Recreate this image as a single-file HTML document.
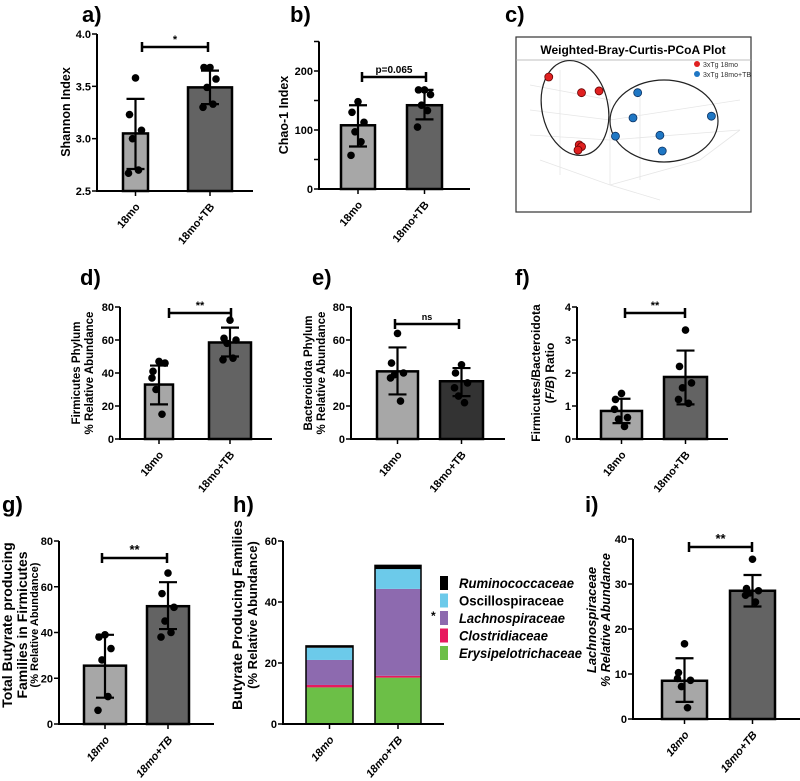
<!DOCTYPE html>
<html><head><meta charset="utf-8"><style>
body{margin:0;background:#fff;}
svg{display:block;font-family:"Liberation Sans",sans-serif;}
.tk{font-weight:bold;font-size:11px;}
.lt{font-weight:bold;font-size:22px;}
</style></head><body>
<svg id="fig" width="800" height="781" viewBox="0 0 800 781" xmlns="http://www.w3.org/2000/svg"></svg>
<script>
// ---- data ----
const groups = ["18mo","18mo+TB"];
const aMeans=[3.05,3.49], aErrLo=[2.71,3.33], aErrHi=[3.38,3.65];
const aPts1=[3.58,3.23,3.08,3.0,2.70,2.67], aPts2=[3.68,3.68,3.57,3.49,3.33,3.30];
const aTicks=[2.5,3.0,3.5,4.0];
const bMeans=[108,142], bErrLo=[72,118], bErrHi=[142,168];
const bPts1=[148,130,113,97,80,57], bPts2=[168,168,160,142,133,105];
const bTicks=[0,100,200];
const dMeans=[33,58.5], dErrLo=[21,50], dErrHi=[44.5,67.5];
const dPts1=[47,41,46,30,15,37], dPts2=[72,61,60,58,49,48];
const dTicks=[0,20,40,60,80];
const eMeans=[41,35], eErrLo=[27,26], eErrHi=[55.5,43];
const ePts1=[64,46,40,39,23,37], ePts2=[45,40,34,26,22,31];
const eTicks=[0,20,40,60,80];
const fMeans=[0.85,1.88], fErrLo=[0.48,1.05], fErrHi=[1.22,2.68];
const fPts1=[1.38,1.2,0.65,0.6,0.38,0.9], fPts2=[3.3,2.2,1.7,1.55,1.08,1.2];
const fTicks=[0,1,2,3,4];
const gMeans=[25.5,51.5], gErrLo=[11.5,41.5], gErrHi=[39,62];
const gPts1=[39,38,33,28,12,6], gPts2=[66,57,51,45,40,38];
const gTicks=[0,20,40,60,80];
const iMeans=[8.5,28.5], iErrLo=[3.8,25], iErrHi=[13.5,32];
const iPts1=[16.7,10.3,8.6,7.2,2.5,9], iPts2=[35.5,29,28.5,28,26,27.5];
const iTicks=[0,10,20,30,40];
const hFamilies=["Erysipelotrichaceae","Clostridiaceae","Lachnospiraceae","Oscillospiraceae","Ruminococcaceae"];
const hBar1=[12,0.8,8.2,4,0.6];
const hBar2=[15.2,0.6,28.5,6.5,1.2];
const hTicks=[0,20,40,60];
const redPts=[[-0.72,0.54],[-0.44,0.36],[-0.29,0.38],[-0.46,-0.24],[-0.44,-0.26],[-0.47,-0.3]];
const bluePts=[[0.04,0.36],[0,0.07],[-0.15,-0.14],[0.23,-0.13],[0.25,-0.31],[0.67,0.09]];

const NS="http://www.w3.org/2000/svg";
const svg=document.getElementById('fig');
function mk(tag,attrs,parent,text){const e=document.createElementNS(NS,tag);for(const k in attrs)e.setAttribute(k,attrs[k]);if(text!==undefined)e.textContent=text;(parent||svg).appendChild(e);return e;}
const jit=[0,-6,6,-3,3,-7];

function panel(p){
  const g=mk('g',{});
  
  
  const y=v=>p.y0-(v-p.vmin)/(p.vmax-p.vmin)*(p.y0-p.ytop);
  const L=mk('text',{x:p.lx,y:p.ly,class:'lt'},g,p.letter);
  
  
  p.bars.forEach((bx,i)=>{
    const top=y(p.means[i]);
    const r=mk('rect',{x:bx[0],y:top,width:bx[1]-bx[0],height:p.y0-top,fill:p.colors[i],stroke:'#000','stroke-width':2.5},g);
    
    
  });
  p.bars.forEach((bx,i)=>{
    const cx=(bx[0]+bx[1])/2;
    const pts=i===0?p.p1:p.p2;
    pts.forEach((v,k)=>{
      const c=mk('circle',{cx:cx+jit[k%6],cy:y(v),r:3.8,fill:'#000'},g);
      
      
    });
  });
  p.bars.forEach((bx,i)=>{
    const cx=(bx[0]+bx[1])/2;
    const eb=mk('path',{d:`M${cx},${y(p.lo[i])}V${y(p.hi[i])}M${cx-9},${y(p.lo[i])}h18M${cx-9},${y(p.hi[i])}h18`,stroke:'#000','stroke-width':2.2,fill:'none'},g);
    
    
  });
  const ax=mk('path',{d:`M${p.ax},${y(p.vmax)}V${p.y0}H${p.xend}`,stroke:'#000','stroke-width':2,fill:'none'},g);
  
  
  (p.minor||[]).forEach(v=>mk('line',{x1:p.ax-5,x2:p.ax,y1:y(v),y2:y(v),stroke:'#000','stroke-width':1.5},g));
  p.ticks.forEach(v=>{
    mk('line',{x1:p.ax-5,x2:p.ax,y1:y(v),y2:y(v),stroke:'#000','stroke-width':1.5},g);
    const t=mk('text',{x:p.ax-6,y:y(v)+4,'text-anchor':'end',class:'tk'},g,p.tickFmt?p.tickFmt(v):String(v));
    
    
  });
  p.bars.forEach((bx,i)=>{
    const cx=(bx[0]+bx[1])/2;
    mk('line',{x1:cx,x2:cx,y1:p.y0,y2:p.y0+5,stroke:'#000','stroke-width':1.5},g);
    const t=mk('text',{x:cx+5,y:p.y0+16,'text-anchor':'end',class:'tk',transform:`rotate(-50 ${cx+5} ${p.y0+16})`,'font-style':p.italicX?'italic':'normal'},g,groups[i]);
    
    
  });
  if(p.sig){
    const sy=p.sig.y;
    mk('path',{d:`M${p.sig.x1},${sy}H${p.sig.x2}M${p.sig.x1},${sy-5}v10M${p.sig.x2},${sy-5}v10`,stroke:'#000','stroke-width':2.5,fill:'none'},g);
    const st=mk('text',{x:(p.sig.x1+p.sig.x2)/2,y:sy-4,'text-anchor':'middle','font-size':p.sig.fs||11,'font-weight':'bold'},g,p.sig.t);
    
    
  }
  p.ylab.forEach(l=>{
    const t=mk('text',{x:l.x,y:l.y,'text-anchor':'middle','font-weight':'bold','font-size':l.fs||12.5,'font-style':l.it?'italic':'normal',transform:`rotate(-90 ${l.x} ${l.y})`},g);
    t.innerHTML=l.t;
    
    
  });
}
const C1='#a7a7a7',C2='#636363';
panel({name:'panel-a-shannon',letter:'a)',lx:82,ly:22,means:aMeans,lo:aErrLo,hi:aErrHi,p1:aPts1,p2:aPts2,ticks:aTicks,tickFmt:v=>v.toFixed(1),
  vmin:2.5,vmax:4.0,y0:191,ytop:34,ax:97,xend:253,bars:[[123,148],[188,232]],colors:[C1,C2],
  sig:{x1:142,x2:208,y:47,t:'*'},ylab:[{x:70,y:112,t:'Shannon Index'}]});
panel({name:'panel-b-chao1',letter:'b)',lx:290,ly:22,means:bMeans,lo:bErrLo,hi:bErrHi,p1:bPts1,p2:bPts2,ticks:bTicks,minor:[50,150,250],
  vmin:0,vmax:250,y0:189,ytop:41.5,ax:319,xend:470,bars:[[341,375],[407,442]],colors:[C1,C2],
  sig:{x1:362,x2:426,y:77,t:'p=0.065',fs:10},ylab:[{x:288,y:115,t:'Chao-1 Index'}]});
panel({name:'panel-d-firmicutes',letter:'d)',lx:80,ly:285,means:dMeans,lo:dErrLo,hi:dErrHi,p1:dPts1,p2:dPts2,ticks:dTicks,
  vmin:0,vmax:80,y0:439,ytop:307,ax:120,xend:272,bars:[[145,173],[209,251]],colors:[C1,C2],
  sig:{x1:169,x2:231,y:313,t:'**'},ylab:[{x:80,y:373,t:'Firmicutes Phylum',fs:11.5},{x:93,y:373,t:'% Relative Abundance',fs:11.5}]});
panel({name:'panel-e-bacteroidota',letter:'e)',lx:312,ly:285,means:eMeans,lo:eErrLo,hi:eErrHi,p1:ePts1,p2:ePts2,ticks:eTicks,
  vmin:0,vmax:80,y0:439,ytop:307,ax:351,xend:505,bars:[[377,418],[440,483]],colors:[C1,'#333'],
  sig:{x1:395,x2:459,y:324,t:'ns',fs:9},ylab:[{x:312,y:373,t:'Bacteroidota Phylum',fs:11.5},{x:325,y:373,t:'% Relative Abundance',fs:11.5}]});
panel({name:'panel-f-fb-ratio',letter:'f)',lx:515,ly:285,means:fMeans,lo:fErrLo,hi:fErrHi,p1:fPts1,p2:fPts2,ticks:fTicks,
  vmin:0,vmax:4,y0:439,ytop:307,ax:577,xend:728,bars:[[601,642],[664,707]],colors:[C1,C2],
  sig:{x1:625,x2:685,y:313,t:'**'},ylab:[{x:540,y:373,t:'Firmicutes/Bacteroidota',fs:12},{x:554,y:373,t:'(<tspan font-style="italic">F/B</tspan>) Ratio',fs:12}]});
panel({name:'panel-g-butyrate-total',letter:'g)',lx:2,ly:512,means:gMeans,lo:gErrLo,hi:gErrHi,p1:gPts1,p2:gPts2,ticks:gTicks,italicX:true,
  vmin:0,vmax:80,y0:724,ytop:541,ax:59,xend:214,bars:[[84,126],[147,189]],colors:[C1,C2],
  sig:{x1:102,x2:167,y:558,t:'**',fs:13},ylab:[{x:12,y:625,t:'Total Butyrate producing',fs:14},{x:27,y:625,t:'Families in Firmicutes',fs:14},{x:38,y:625,t:'(% Relative Abundance)',fs:11}]});
panel({name:'panel-i-lachnospiraceae',letter:'i)',lx:585,ly:512,means:iMeans,lo:iErrLo,hi:iErrHi,p1:iPts1,p2:iPts2,ticks:iTicks,italicX:true,
  vmin:0,vmax:40,y0:719,ytop:539,ax:633,xend:800,bars:[[662,707],[730,775]],colors:[C1,C2],
  sig:{x1:689,x2:752,y:547,t:'**',fs:13},ylab:[{x:596,y:620,t:'Lachnospiraceae',fs:13,it:true},{x:610,y:620,t:'% Relative Abundance',fs:12.5,it:true}]});

// ---- panel h stacked ----
(function(){
  const g=mk('g',{});
  
  
  const cols=['#6cbf47','#e8195f','#8d6aaf','#6ccaea','#000'];
  const legW=[123,89,106,105,115];
  const y0=724,ytop=541,vmax=60,ax=283;
  const y=v=>y0-v/vmax*(y0-ytop);
  const L=mk('text',{x:233,y:512,class:'lt'},g,'h)');
  
  
  const bars=[[306,353],[375,421]];
  [hBar1,hBar2].forEach((vals,i)=>{
    let acc=0;
    vals.forEach((v,k)=>{
      const r=mk('rect',{x:bars[i][0],y:y(acc+v),width:bars[i][1]-bars[i][0],height:y(acc)-y(acc+v),fill:cols[k]},g);
      
      
      acc+=v;
    });
    mk('rect',{x:bars[i][0],y:y(acc),width:bars[i][1]-bars[i][0],height:y0-y(acc),fill:'none',stroke:'#000','stroke-width':1.5},g);
    const cx=(bars[i][0]+bars[i][1])/2;
    mk('line',{x1:cx,x2:cx,y1:y0,y2:y0+5,stroke:'#000','stroke-width':1.5},g);
    const t=mk('text',{x:cx+5,y:y0+16,'text-anchor':'end',class:'tk','font-style':'italic',transform:`rotate(-50 ${cx+5} ${y0+16})`},g,groups[i]);
    
    
  });
  mk('path',{d:`M${ax},${ytop}V${y0}H444`,stroke:'#000','stroke-width':2,fill:'none'},g);
  hTicks.forEach(v=>{
    mk('line',{x1:ax-5,x2:ax,y1:y(v),y2:y(v),stroke:'#000','stroke-width':1.5},g);
    const t=mk('text',{x:ax-6,y:y(v)+4,'text-anchor':'end',class:'tk'},g,String(v));
    
    
  });
  [['Butyrate Producing Families',242,14],['(% Relative Abundance)',257,13]].forEach(l=>{
    const t=mk('text',{x:l[1],y:615,'text-anchor':'middle','font-weight':'bold','font-size':l[2],transform:`rotate(-90 ${l[1]} 615)`},g,l[0]);
    
    
  });
  for(let k=4;k>=0;k--){
    const ry=576+(4-k)*17.5;
    const lg=mk('g',{},g);
    
    
    mk('rect',{x:440,y:ry,width:8,height:14,fill:cols[k]},lg);
    mk('text',{x:459,y:ry+12,'font-weight':'bold','font-size':14,textLength:legW[k],lengthAdjust:'spacingAndGlyphs','font-style':k===3?'normal':'italic'},lg,hFamilies[k]);
  }
  mk('text',{x:431,y:620,'font-weight':'bold','font-size':12},g,'*');
})();

// ---- panel c PCoA ----
(function(){
  const g=mk('g',{});
  
  
  const L=mk('text',{x:505,y:22,class:'lt'},g,'c)');
  
  
  mk('rect',{x:516,y:37,width:235,height:175,fill:'#fff',stroke:'#333','stroke-width':1.2},g);
  mk('line',{x1:516,x2:751,y1:60,y2:60,stroke:'#aaa','stroke-width':0.8},g);
  const tt=mk('text',{x:633,y:54,'text-anchor':'middle','font-weight':'bold','font-size':12},g,'Weighted-Bray-Curtis-PCoA Plot');
  
  
  const gp='M530,85L610,100L610,185M530,110L610,120M530,135L610,140M610,140L740,130M610,120L740,100M560,70V175M640,90V180M540,160L610,185L700,160L740,130M610,185L660,200';
  mk('path',{d:gp,stroke:'#e6e6e6','stroke-width':0.8,fill:'none'},g);
  const px=v=>633+v*117, py=v=>124-v*87;
  mk('ellipse',{cx:575,cy:108,rx:33,ry:48,transform:'rotate(-12 575 108)',fill:'none',stroke:'#222','stroke-width':1.2},g);
  mk('ellipse',{cx:664,cy:121,rx:54,ry:41,fill:'none',stroke:'#222','stroke-width':1.2},g);
  redPts.forEach(p=>{const c=mk('circle',{cx:px(p[0]),cy:py(p[1]),r:4,fill:'#e02020',stroke:'#600','stroke-width':0.8},g);
    });
  bluePts.forEach(p=>{const c=mk('circle',{cx:px(p[0]),cy:py(p[1]),r:4,fill:'#1f77c4',stroke:'#0a3060','stroke-width':0.8},g);
    });
  const l1=mk('g',{},g);
  mk('circle',{cx:697,cy:64,r:3,fill:'#e02020'},l1);mk('text',{x:703,y:67,'font-size':7,fill:'#333'},l1,'3xTg 18mo');
  const l2=mk('g',{},g);
  mk('circle',{cx:697,cy:74,r:3,fill:'#1f77c4'},l2);mk('text',{x:703,y:77,'font-size':7,fill:'#333'},l2,'3xTg 18mo+TB');
})();
</script>
</body></html>
